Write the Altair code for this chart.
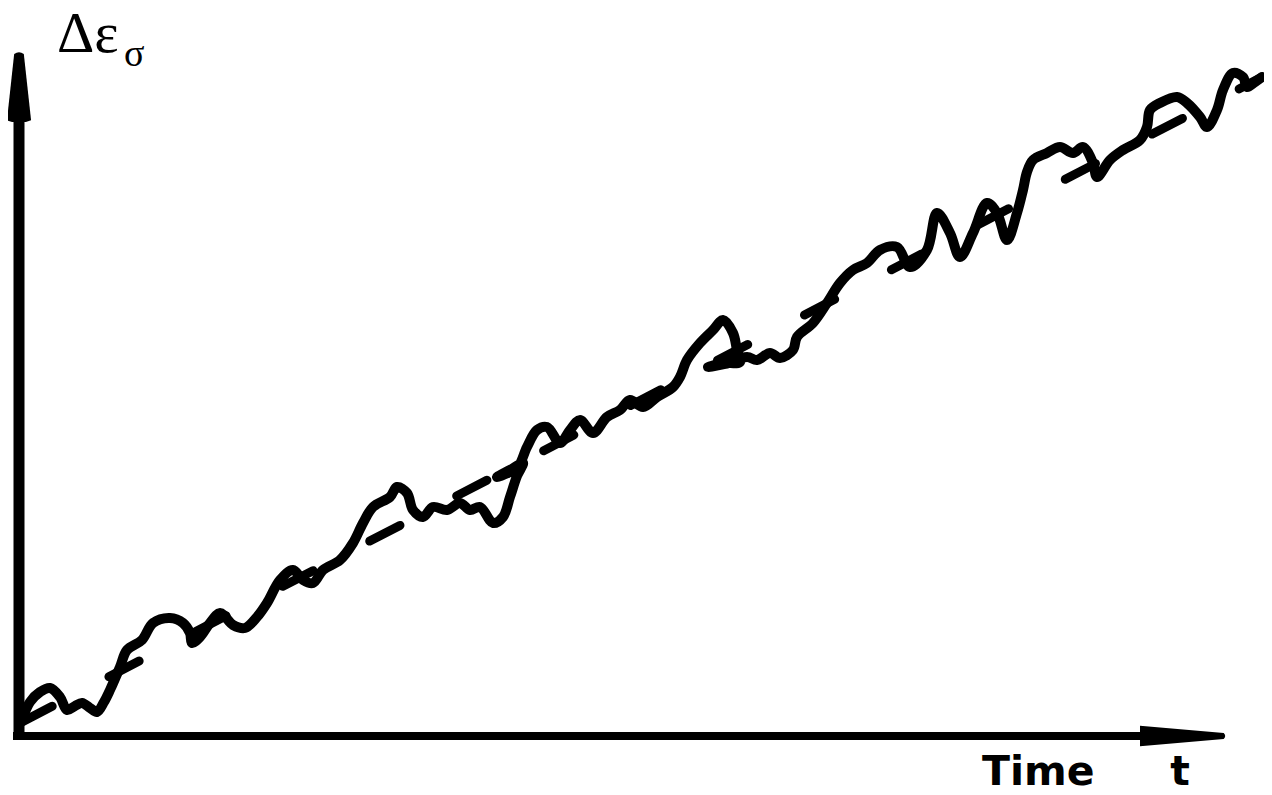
import altair as alt
import pandas as pd

# Jagged measured curve (time t, strain increment)
time_vals = [3, 11, 21, 31, 41, 48, 56, 63, 71, 78, 85, 91, 101, 108, 123, 134, 151, 164, 171, 173,
             181, 191, 201, 214, 226, 238, 248, 261, 274, 284, 294, 304, 321, 334, 344, 354, 371, 378,
             388, 394, 404, 414, 428, 441, 451, 461, 474, 484, 491, 498, 504, 491, 478, 489, 499, 508,
             518, 528, 541, 551, 561, 574, 588, 601, 611, 624, 638, 654, 661, 668, 681, 694, 704, 714,
             718, 721, 704, 689, 706, 728, 738, 751, 761, 774, 778, 794, 808, 821, 834, 848, 861, 878,
             891, 908, 918, 931, 941, 954, 968, 978, 988, 998, 1004, 1008, 1014, 1028, 1041, 1054, 1064,
             1074, 1078, 1091, 1104, 1121, 1128, 1131, 1141, 1158, 1168, 1181, 1188, 1198, 1204, 1214,
             1224, 1228, 1236, 1243]
strain_vals = [16, 34, 44, 48, 39, 26, 30, 33, 28, 24, 34, 46, 69, 86, 96, 113, 118, 113, 103, 93,
               99, 113, 123, 111, 108, 119, 133, 156, 166, 156, 153, 166, 176, 193, 213, 229, 239, 249,
               243, 226, 219, 229, 226, 233, 226, 229, 213, 219, 239, 260, 273, 266, 259, 263, 269, 289,
               306, 309, 293, 306, 316, 303, 319, 326, 336, 329, 339, 349, 359, 376, 393, 406, 416, 403,
               386, 374, 373, 369, 372, 379, 376, 383, 378, 386, 399, 413, 433, 453, 466, 473, 486, 489,
               469, 486, 523, 503, 479, 503, 533, 523, 496, 523, 546, 564, 576, 583, 589, 583, 589,
               573, 559, 576, 586, 596, 609, 626, 633, 639, 633, 619, 609, 626, 646, 663,
               659, 649, 654, 659]

# Dashed trend line end points
trend_time = [3, 1243]
trend_strain = [14, 659]

# Axes (drawn as arrows)
y_axis_time = [0]
y_axis_from = [-4]
y_axis_to = [614]
x_axis_from = [-6]
x_axis_to = [1123]
x_axis_strain = [0]
y_arrow_time = [0]
y_arrow_strain = [648.5]
x_arrow_time = [1163.5]
x_arrow_strain = [0]

# Labels
y_label = "Δε"
y_label_sub = "σ"
x_label = "Time"
x_symbol = "t"

curve = pd.DataFrame({"i": list(range(len(time_vals))), "t": time_vals, "e": strain_vals})
trend = pd.DataFrame({"i": [0, 1], "t": trend_time, "e": trend_strain})

xs = alt.Scale(domain=[-11, 1245], nice=False, zero=False)
ys = alt.Scale(domain=[-51, 728], nice=False, zero=False)


def X(f="t"):
    return alt.X(f + ":Q", scale=xs, axis=None)


def Y(f="e"):
    return alt.Y(f + ":Q", scale=ys, axis=None)


line = alt.Chart(curve).mark_line(
    color="black", strokeWidth=10, strokeCap="round", strokeJoin="round", interpolate="catmull-rom"
).encode(x=X(), y=Y(), order="i:Q")

trend_line = alt.Chart(trend).mark_line(
    color="black", strokeWidth=9, strokeCap="round", strokeDash=[34, 64]
).encode(x=X(), y=Y(), order="i:Q")

y_axis = alt.Chart(pd.DataFrame({"t": y_axis_time, "e": y_axis_from, "e2": y_axis_to})).mark_rule(
    color="black", strokeWidth=11
).encode(x=X(), y=Y(), y2="e2:Q")

x_axis = alt.Chart(pd.DataFrame({"t": x_axis_from, "t2": x_axis_to, "e": x_axis_strain})).mark_rule(
    color="black", strokeWidth=8
).encode(x=X(), x2="t2:Q", y=Y())

y_head = alt.Chart(pd.DataFrame({"t": y_arrow_time, "e": y_arrow_strain})).mark_point(
    shape="M -0.14 -0.97 Q 0 -1.08 0.14 -0.97 L 0.35 0.95 L 0.2 1 L -0.2 1 L -0.35 0.95 Z",
    filled=True, color="black", opacity=1, size=4761, strokeWidth=0
).encode(x=X(), y=Y())

x_head = alt.Chart(pd.DataFrame({"t": x_arrow_time, "e": x_arrow_strain})).mark_point(
    shape="M -1 -0.24 L 0.97 -0.07 Q 1.04 0 0.97 0.07 L -1 0.24 Z",
    filled=True, color="black", opacity=1, size=7225, strokeWidth=0
).encode(x=X(), y=Y())

lbl1 = alt.Chart(pd.DataFrame({"t": [38], "e": [684], "s": [y_label]})).mark_text(
    font="Liberation Serif", fontSize=58, align="left", baseline="alphabetic", color="black"
).encode(x=X(), y=Y(), text="s:N")

lbl2 = alt.Chart(pd.DataFrame({"t": [105], "e": [670], "s": [y_label_sub]})).mark_text(
    font="Liberation Serif", fontSize=38, align="left", baseline="alphabetic", color="black"
).encode(x=X(), y=Y(), text="s:N")

lbl3 = alt.Chart(pd.DataFrame({"t": [963], "e": [-49], "s": [x_label]})).mark_text(
    font="DejaVu Sans", fontSize=41, fontWeight="bold", align="left", baseline="alphabetic", color="black"
).encode(x=X(), y=Y(), text="s:N")

lbl4 = alt.Chart(pd.DataFrame({"t": [1161], "e": [-49], "s": [x_symbol]})).mark_text(
    font="DejaVu Sans", fontSize=41, fontWeight="bold", align="center", baseline="alphabetic", color="black"
).encode(x=X(), y=Y(), text="s:N")

chart = alt.layer(y_axis, x_axis, y_head, x_head, trend_line, line, lbl1, lbl2, lbl3, lbl4).properties(
    width=1256, height=779,
    padding={"left": 0, "top": 0, "right": 0, "bottom": 8},
    autosize=alt.AutoSizeParams(type="none"),
    background="white"
).configure_view(stroke=None)

chart.save("out.html", embed_options={"renderer": "svg", "actions": False})
